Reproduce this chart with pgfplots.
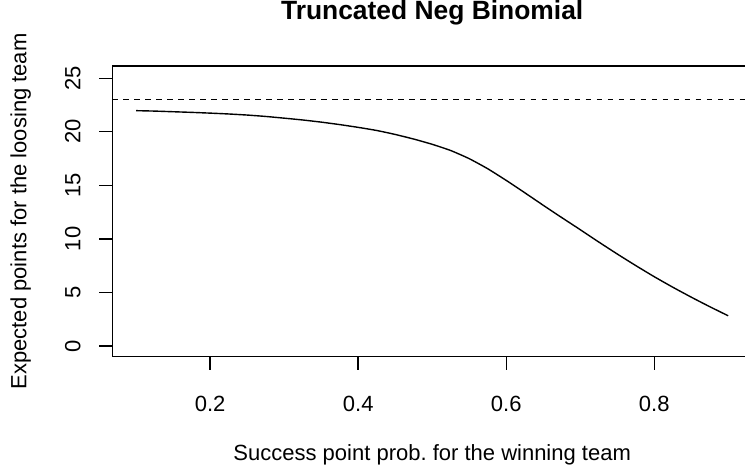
\documentclass[border=0pt]{standalone}
\usepackage{fontspec}
\setmainfont{Liberation Sans}
\usepackage{pgfplots}
\pgfplotsset{compat=1.18}
\frenchspacing
\begin{document}
\fontsize{11}{13}\selectfont
\begin{tikzpicture}
\useasboundingbox (-56.25pt,-57.15pt) rectangle (316.25pt,178.35pt);
\clip (-56.25pt,-57.15pt) rectangle (316.25pt,178.35pt);
\begin{axis}[
  at={(0,0)}, anchor=south west, scale only axis,
  width=319.7pt, height=145.35pt,
  xmin=0.068, xmax=0.932, ymin=-1, ymax=26.14,
  xtick={0.2,0.4,0.6,0.8}, ytick={0,5,10,15,20,25},
  xticklabels={0.2,0.4,0.6,0.8},
  tick align=outside, major tick length=6.6pt,
  xtick pos=bottom, ytick pos=left,
  axis line style={line width=0.7pt},
  every tick/.style={line width=0.7pt, black},
  /pgf/number format/assume math mode=true,
  tick label style={font=\fontsize{11}{13}\selectfont},
  xticklabel style={anchor=base, yshift=-20.6pt},
  yticklabel style={xshift=-9.4pt, rotate=90, anchor=base},
  xlabel={Success point prob.\ for the winning team},
  ylabel={Expected points for the loosing team},
  xlabel style={at={(axis description cs:0.5,0)}, anchor=base, yshift=-51.7pt, font=\fontsize{11}{13}\selectfont},
  ylabel style={at={(axis description cs:0,0.5)}, anchor=base, yshift=43pt, font=\fontsize{11}{13}\selectfont},
  title={Truncated Neg Binomial},
  title style={at={(axis description cs:0.5,1)}, anchor=base, yshift=17.2pt, font=\bfseries\fontsize{13.2}{15}\selectfont},
  clip=true,
]
\addplot[black, line width=0.7pt, dash pattern=on 2.9pt off 2.6pt] coordinates {(0.068,23) (0.932,23)};
\addplot[black, line width=0.7pt, smooth, tension=0.3] coordinates {
(0.100,21.97) (0.125,21.93) (0.150,21.87) (0.175,21.81) (0.200,21.74)
(0.225,21.66) (0.250,21.56) (0.275,21.43) (0.300,21.27) (0.325,21.10)
(0.350,20.90) (0.375,20.67) (0.400,20.41) (0.425,20.12) (0.450,19.75)
(0.475,19.32) (0.500,18.83) (0.525,18.25) (0.550,17.49) (0.575,16.55)
(0.600,15.46) (0.625,14.31) (0.650,13.14) (0.675,11.99) (0.700,10.86)
(0.725,9.71) (0.750,8.59) (0.775,7.51) (0.800,6.47) (0.825,5.49)
(0.850,4.56) (0.875,3.67) (0.900,2.82)};
\end{axis}
\end{tikzpicture}
\end{document}
